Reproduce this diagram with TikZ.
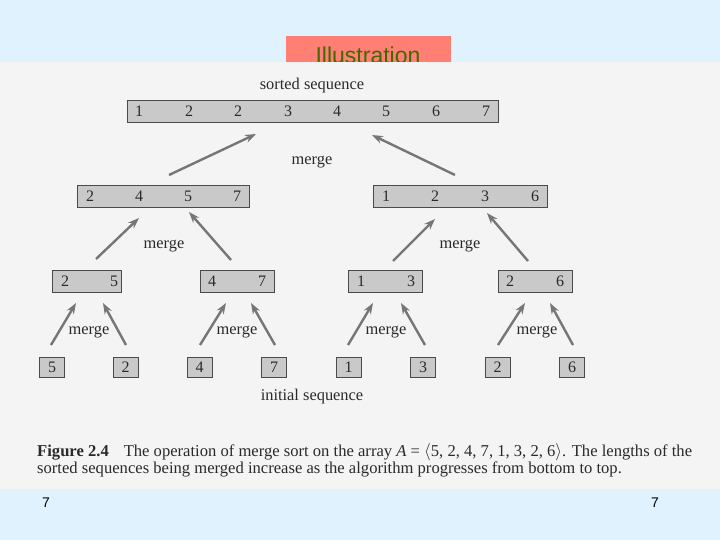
\documentclass[tikz,border=0pt]{standalone}
\usepackage{fontspec}
\setmainfont{Liberation Serif}
\newfontfamily\sansf{Liberation Sans}
\usetikzlibrary{arrows.meta}
\definecolor{bgblue}{HTML}{E0F2FD}
\definecolor{panelgray}{HTML}{F4F4F4}
\definecolor{titlered}{HTML}{FF7F74}
\definecolor{titlegreen}{HTML}{3F6A00}
\definecolor{barfill}{HTML}{C9C9C9}
\definecolor{barline}{HTML}{4A4A4A}
\definecolor{arrowgray}{HTML}{767676}
\definecolor{textgray}{HTML}{2A2A2A}
\tikzset{
  bar/.style={draw=barline, line width=0.8pt, fill=barfill, inner sep=0pt, minimum height=22pt},
  cell/.style={draw=barline, line width=0.8pt, fill=barfill, inner sep=0pt, minimum width=25pt, minimum height=20pt, font=\fontsize{16}{18}\selectfont, text=textgray},
  num/.style={inner sep=0pt, font=\fontsize{16}{18}\selectfont, text=textgray},
  lbl/.style={inner sep=0pt, font=\fontsize{16.4}{18}\selectfont, text=textgray},
  up/.style={draw=arrowgray, line width=2.4pt, -{Stealth[length=11pt,width=8pt]}},
  captext/.style={inner sep=0pt, anchor=base west, font=\fontsize{16.6}{19}\selectfont, text=textgray},
}
\begin{document}
\begin{tikzpicture}[x=1pt,y=-1pt]
\useasboundingbox (0,0) rectangle (720,540);
\fill[bgblue] (0,0) rectangle (720,540);
% title
\node[fill=titlered, minimum width=165pt, minimum height=28pt, inner sep=0pt] (titlebox) at (368.5,50) {};
\node[anchor=base, inner sep=0pt, text=titlegreen, font=\sansf\fontsize{23}{26}\selectfont] (title) at (368,63.5) {Illustration};
% panel
\fill[panelgray] (0,62.5) rectangle (720,489);
% labels
\node[lbl] (sorted) at (312,86) {sorted sequence};
\node[lbl] (initial) at (312,397) {initial sequence};
% level 1
\node[bar, minimum width=371pt] (b1) at (312.5,111.5) {};
\foreach \x/\v [count=\i] in {139/1,189/2,238/2,288/3,337/4,386/5,436/6,486/7}
  \node[num] (n1\i) at (\x,111.5) {\v};
% level 2
\node[bar, minimum width=172pt] (b2a) at (163,196) {};
\node[bar, minimum width=174pt] (b2b) at (460,196) {};
\foreach \x/\v [count=\i] in {90/2,139/4,188/5,237/7,386/1,435/2,485/3,535/6}
  \node[num] (n2\i) at (\x,196) {\v};
% level 3
\node[bar, minimum width=69pt] (b3a) at (86.5,281) {};
\node[bar, minimum width=74pt] (b3b) at (237,281) {};
\node[bar, minimum width=74pt] (b3c) at (385,281) {};
\node[bar, minimum width=74pt] (b3d) at (535,281) {};
\foreach \x/\v [count=\i] in {65/2,114/5,212/4,262/7,361/1,411/3,510/2,560/6}
  \node[num] (n3\i) at (\x,281) {\v};
% level 4
\foreach \x/\v [count=\i] in {52/5,125.5/2,199.5/4,274/7,348.5/1,423/3,497.5/2,572/6}
  \node[cell] (c\i) at (\x,367) {\v};
% merge labels
\node[lbl] (m1) at (312,162) {merge};
\node[lbl] (m2a) at (164,246) {merge};
\node[lbl] (m2b) at (460,246) {merge};
\node[lbl] (m3a) at (89,332) {merge};
\node[lbl] (m3b) at (237,332) {merge};
\node[lbl] (m3c) at (386,332) {merge};
\node[lbl] (m3d) at (537,332) {merge};
% arrow end points
\coordinate (a1s) at (169,175); \coordinate (a1e) at (256,134);
\coordinate (a2s) at (455,175); \coordinate (a2e) at (372,135);
\coordinate (a3s) at (96,259);  \coordinate (a3e) at (139,218);
\coordinate (a4s) at (231,260); \coordinate (a4e) at (189,212);
\coordinate (a5s) at (393,261); \coordinate (a5e) at (435,219);
\coordinate (a6s) at (528,261); \coordinate (a6e) at (487,213);
\coordinate (a7s) at (51,345);  \coordinate (a7e) at (76,303);
\coordinate (a8s) at (126,345); \coordinate (a8e) at (103,303);
\coordinate (a9s) at (200,345); \coordinate (a9e) at (226,303);
\coordinate (a10s) at (275,345); \coordinate (a10e) at (251,303);
\coordinate (a11s) at (348,345); \coordinate (a11e) at (373,303);
\coordinate (a12s) at (425,345); \coordinate (a12e) at (401,303);
\coordinate (a13s) at (498,345); \coordinate (a13e) at (525,303);
\coordinate (a14s) at (573,345); \coordinate (a14e) at (550,303);
\foreach \i in {1,...,14} \draw[up] (a\i s) -- (a\i e);
% caption
\node[captext] (cap1) at (37,456) {\textbf{Figure 2.4}\hspace{0.9em}The operation of merge sort on the array \textit{A}~= \(\langle\)5, 2, 4, 7, 1, 3, 2, 6\(\rangle\). The lengths of the};
\node[captext] (cap2) at (37,473) {sorted sequences being merged increase as the algorithm progresses from bottom to top.};
% footer
\node[inner sep=0pt, font=\sansf\fontsize{14}{16}\selectfont] (f1) at (46,503) {7};
\node[inner sep=0pt, font=\sansf\fontsize{14}{16}\selectfont] (f2) at (655,503) {7};
\end{tikzpicture}
\end{document}
